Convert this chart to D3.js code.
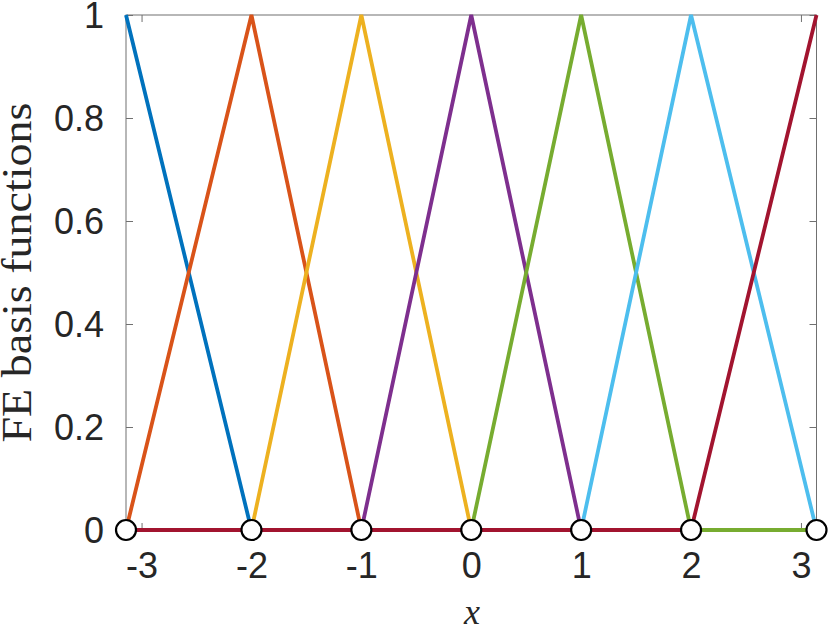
<!DOCTYPE html>
<html><head><meta charset="utf-8">
<script src="https://cdn.jsdelivr.net/npm/d3@7"></script>
<style>body{margin:0;background:#fff}svg{display:block}</style>
</head><body>
<script>
const nodes = [-Math.PI, -2, -1, 0, 1, 2, Math.PI];
const series = [
  [1,0,0,0,0,0,0],
  [0,1,0,0,0,0,0],
  [0,0,1,0,0,0,0],
  [0,0,0,1,0,0,0],
  [0,0,0,0,1,0,0],
  [0,0,0,0,0,1,0],
  [0,0,0,0,0,0,1]
];
const colors = ["#0072BD","#D95319","#EDB120","#7E2F8E","#77AC30","#4DBEEE","#A2142F"];
const xTicks = [-3,-2,-1,0,1,2,3];
const xTickLabels = ["-3","-2","-1","0","1","2","3"];
const yTicks = [0,0.2,0.4,0.6,0.8,1];
const yTickLabels = ["0","0.2","0.4","0.6","0.8","1"];
const yLabel = "FE basis functions";
const xLabel = "x";

const W = 830, H = 628;
const L = 126, R = 816.5, T = 15, B = 530;
const svg = d3.select("body").append("svg").attr("width", W).attr("height", H);
const x = d3.scaleLinear().domain([-Math.PI, Math.PI]).range([L, R]);
const y = d3.scaleLinear().domain([0, 1]).range([B, T]);

// box
svg.append("rect").attr("x", L).attr("y", T).attr("width", R-L).attr("height", B-T)
  .attr("fill", "none").attr("stroke", "#707070").attr("stroke-width", 1);

const tickColor = "#707070";
const xb = svg.append("g").attr("transform", `translate(0,${B})`)
  .call(d3.axisBottom(x).tickValues(xTicks).tickSizeInner(-7).tickSizeOuter(0).tickPadding(22)
    .tickFormat((d, i) => xTickLabels[i]));
const xt = svg.append("g").attr("transform", `translate(0,${T})`)
  .call(d3.axisTop(x).tickValues(xTicks).tickSizeInner(-7).tickSizeOuter(0).tickFormat(""));
const yl = svg.append("g").attr("transform", `translate(${L},0)`)
  .call(d3.axisLeft(y).tickValues(yTicks).tickSizeInner(-7).tickSizeOuter(0).tickPadding(22)
    .tickFormat((d, i) => yTickLabels[i]));
const yr = svg.append("g").attr("transform", `translate(${R},0)`)
  .call(d3.axisRight(y).tickValues(yTicks).tickSizeInner(-7).tickSizeOuter(0).tickFormat(""));
[xb, xt, yl, yr].forEach(g => {
  g.select(".domain").remove();
  g.selectAll("line").attr("stroke", tickColor);
  g.selectAll("text").attr("fill", "#262626").style("font-family", "'Liberation Sans', Arial, sans-serif").style("font-size", "36px");
});
xb.selectAll("text").attr("dy", "0.71em");
yl.selectAll("text").attr("dy", "0.36em");

const line = d3.line().x((d, i) => x(nodes[i])).y(d => y(d));
series.forEach((s, k) => {
  svg.append("path").datum(s).attr("d", line).attr("fill", "none")
    .attr("stroke", colors[k]).attr("stroke-width", 3.8).attr("stroke-linejoin", "miter");
});

svg.selectAll("circle.node").data(nodes).enter().append("circle")
  .attr("cx", d => x(d)).attr("cy", y(0)).attr("r", 10)
  .attr("fill", "#fff").attr("stroke", "#000").attr("stroke-width", 2.2);

svg.append("text").attr("transform", `translate(31,${(T+B)/2}) rotate(-90)`)
  .attr("text-anchor", "middle").attr("fill", "#262626")
  .attr("textLength", 340).attr("lengthAdjust", "spacingAndGlyphs")
  .style("font-family", "'Liberation Serif', 'Times New Roman', serif").style("font-size", "42px")
  .text(yLabel);
svg.append("text").attr("x", 472).attr("y", 624).attr("text-anchor", "middle").attr("fill", "#262626")
  .style("font-family", "'Liberation Serif', 'Times New Roman', serif").style("font-style", "italic").style("font-size", "36px")
  .text(xLabel);
</script>
</body></html>
